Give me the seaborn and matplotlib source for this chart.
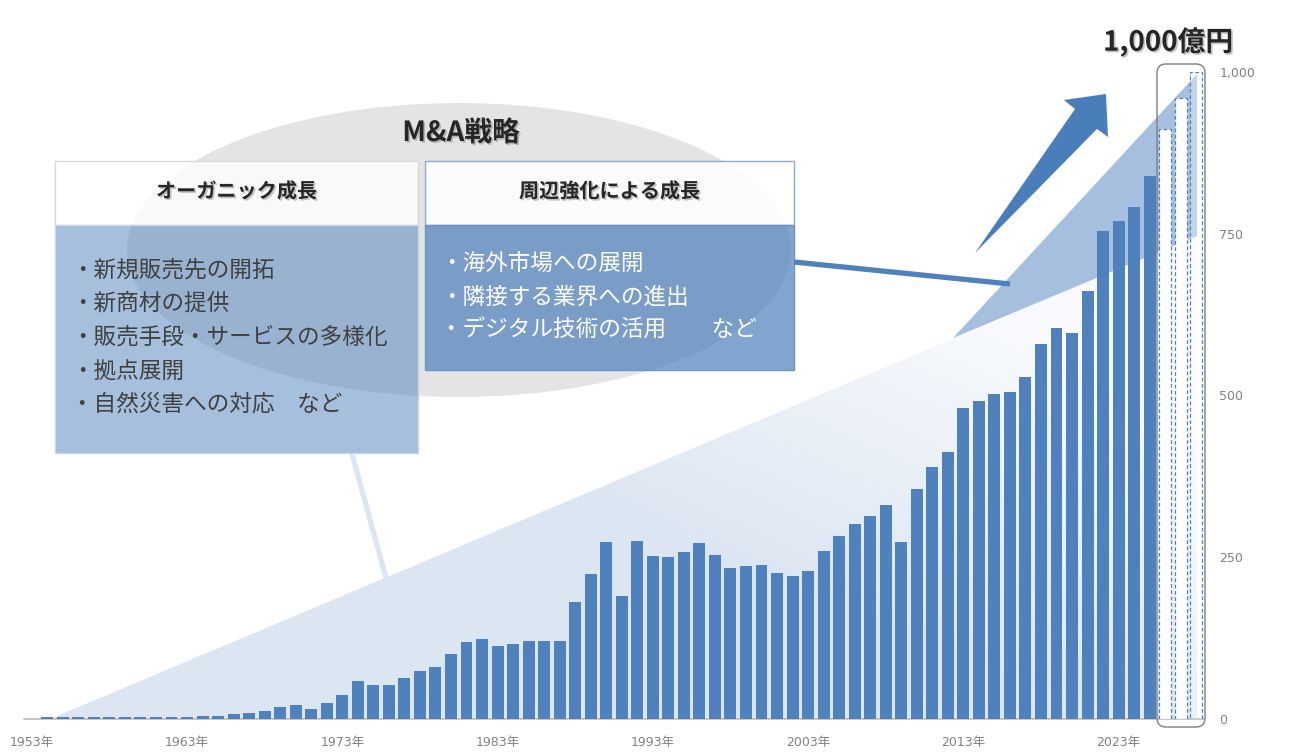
import matplotlib
matplotlib.use("Agg")
import matplotlib.pyplot as plt
import matplotlib.patheffects as pe
import numpy as np
import pandas as pd
import seaborn as sns
from matplotlib.patches import Ellipse, FancyBboxPatch, Polygon, Rectangle

# sales by year (億円), 2026-2028 are plan values
YEARS = list(range(1953, 2029))
SALES = [
    0, 3, 3, 3, 3, 3, 3, 3, 3, 3,                      # 1953-1962
    3, 5, 5, 7, 10, 13, 18, 22, 16, 25,                # 1963-1972
    37, 59, 53, 53, 63, 74, 80, 100, 119, 124,         # 1973-1982
    113, 116, 121, 121, 121, 181, 224, 274, 190, 275,  # 1983-1992
    252, 251, 258, 272, 254, 234, 237, 238, 226, 221,  # 1993-2002
    229, 260, 283, 302, 314, 331, 274, 356, 389, 412,  # 2003-2012
    480, 492, 503, 505, 529, 579, 605, 596, 662, 755,  # 2013-2022
    769, 791, 840, 912, 960, 1000,                     # 2023-2028
]
PLAN_FROM = 2026

Y_TICKS = [0, 250, 500, 750, 1000]
Y_TICK_LABELS = ["0", "250", "500", "750", "1,000"]
X_LABEL_YEARS = [1953, 1963, 1973, 1983, 1993, 2003, 2013, 2023]

TARGET_LABEL = "1,000億円"
MA_LABEL = "M&A戦略"
ORGANIC_TITLE = "オーガニック成長"
ORGANIC_ITEMS = [
    "新規販売先の開拓",
    "新商材の提供",
    "販売手段・サービスの多様化",
    "拠点展開",
    "自然災害への対応　など",
]
PERIPHERAL_TITLE = "周辺強化による成長"
PERIPHERAL_ITEMS = [
    "海外市場への展開",
    "隣接する業界への進出",
    "デジタル技術の活用　　など",
]

BAR_BLUE = "#4f81bd"
W, H = 1293, 756

sns.set_theme(style="white")
plt.rcParams["font.family"] = ["Noto Sans CJK JP", "DejaVu Sans"]

fig = plt.figure(figsize=(W / 100, H / 100), dpi=100)
fig.patch.set_facecolor("white")

# background layer in pixel coordinates
bg = fig.add_axes([0, 0, 1, 1])
bg.set_zorder(0)
gx, gy = np.meshgrid(np.arange(0, W, 3), np.arange(0, H, 3))
proj = 0.45 * gx - gy
t = np.clip((120 - proj) / 350, 0, 1)[..., None]
top_c = np.array([248, 250, 253]) / 255
bot_c = np.array([220, 230, 242]) / 255
grad = top_c * (1 - t) + bot_c * t
tri = Polygon([(50, 719), (1197, 236), (1197, 719)], closed=True,
              facecolor="none", edgecolor="none")
bg.add_patch(tri)
im = bg.imshow(grad, extent=(0, W, H, 0), aspect="auto", interpolation="bilinear")
im.set_clip_path(tri)
bg.add_patch(Polygon([(953, 338), (1197, 74), (1197, 236)], closed=True,
                     facecolor="#a7bfde", edgecolor="none"))
bg.set_xlim(0, W)
bg.set_ylim(H, 0)
bg.axis("off")

# bar chart
df = pd.DataFrame({
    "year": [str(y) for y in YEARS],
    "sales": SALES,
    "kind": ["plan" if y >= PLAN_FROM else "actual" for y in YEARS],
})
ax = fig.add_axes([24.0 / W, (H - 719) / H, 1180.0 / W, 647 / H])
ax.set_zorder(1)
ax.patch.set_alpha(0)
sns.barplot(
    data=df, x="year", y="sales", hue="kind",
    order=df["year"].tolist(), hue_order=["actual", "plan"],
    palette={"actual": BAR_BLUE, "plan": "white"},
    dodge=False, width=0.77, saturation=1, linewidth=0,
    legend=False, ax=ax,
)
plan_bars = list(ax.containers[1])
for bar in plan_bars:
    bar.set_edgecolor(BAR_BLUE)
    bar.set_linewidth(0.9)
    bar.set_linestyle((0, (3, 2)))
plan_bars[-1].set_facecolor((1, 1, 1, 0.35))

ax.set_xlim(-0.5, len(YEARS) - 0.5)
ax.set_ylim(0, 1000)
ax.set_xlabel("")
ax.set_ylabel("")
ax.set_xticks([YEARS.index(y) for y in X_LABEL_YEARS],
              labels=[f"{y}年" for y in X_LABEL_YEARS])
ax.yaxis.tick_right()
ax.set_yticks(Y_TICKS, labels=Y_TICK_LABELS)
ax.tick_params(axis="x", length=0, pad=12, labelsize=9, labelcolor="#808080")
ax.tick_params(axis="y", length=0, pad=11, labelsize=9, labelcolor="#808080")
for lab in ax.get_xticklabels() + ax.get_yticklabels():
    lab.set_fontfamily(["DejaVu Sans", "Noto Sans CJK JP"])
for side in ["left", "right", "top"]:
    ax.spines[side].set_visible(False)
ax.spines["bottom"].set_color("#bfbfbf")
ax.spines["bottom"].set_zorder(0.5)
ax.grid(False)

# overlay: callouts, arrow, labels
ov = fig.add_axes([0, 0, 1, 1])
ov.set_zorder(2)
ov.patch.set_alpha(0)
ov.set_xlim(0, W)
ov.set_ylim(H, 0)
ov.axis("off")

shadow = [pe.SimplePatchShadow(offset=(1.2, -1.2), shadow_rgbFace="#808080", alpha=0.45),
          pe.Normal()]

ov.add_patch(Ellipse((459, 250), 664, 294, facecolor="#e4e4e4", edgecolor="none"))
ov.add_patch(Rectangle((55, 161), 363, 64, facecolor=(1, 1, 1, 0.8),
                       edgecolor="#d9d9d9", lw=1))
ov.add_patch(Rectangle((55, 225), 363, 228, facecolor=(79 / 255, 129 / 255, 189 / 255, 0.5),
                       edgecolor="#c8d5ea", lw=1))
ov.add_patch(Rectangle((425, 161), 369, 64, facecolor=(1, 1, 1, 0.88),
                       edgecolor="#8eaad0", lw=1))
ov.add_patch(Rectangle((425, 225), 369, 145, facecolor=(79 / 255, 129 / 255, 189 / 255, 0.71),
                       edgecolor="#6f93c4", lw=1))

ov.plot([794, 1010], [262, 284], color=BAR_BLUE, lw=3.8, solid_capstyle="butt")
ov.plot([352, 386], [454, 578], color="#dce6f2", lw=3.8, solid_capstyle="butt")

ov.add_patch(Polygon([(975, 253), (1075, 109), (1064, 100), (1106, 94),
                      (1108, 137), (1097, 129)], closed=True,
                     facecolor="#4a7ebb", edgecolor="none"))

ov.add_patch(FancyBboxPatch((1157, 64), 48, 663,
                            boxstyle="round,pad=0,rounding_size=9",
                            facecolor="none", edgecolor="#7f7f7f", lw=1))

ov.text(1168, 42, TARGET_LABEL, ha="center", va="center", fontsize=20,
        fontweight="bold", color="#262626", path_effects=shadow)
ov.text(461, 133, MA_LABEL, ha="center", va="center", fontsize=20,
        fontweight="bold", color="#262626", path_effects=shadow)
ov.text(236.5, 191, ORGANIC_TITLE, ha="center", va="center", fontsize=14.5,
        fontweight="bold", color="#262626", path_effects=shadow)
ov.text(609.5, 191, PERIPHERAL_TITLE, ha="center", va="center", fontsize=14.5,
        fontweight="bold", color="#262626", path_effects=shadow)

for y, item in zip([270, 303, 337, 371, 404], ORGANIC_ITEMS):
    ov.text(71, y, "・" + item, ha="left", va="center", fontsize=16.3, color="#404040")
for y, item in zip([263, 297, 330], PERIPHERAL_ITEMS):
    ov.text(440, y, "・" + item, ha="left", va="center", fontsize=16.3, color="white")

fig.savefig("out.png", dpi=100, facecolor="white")
